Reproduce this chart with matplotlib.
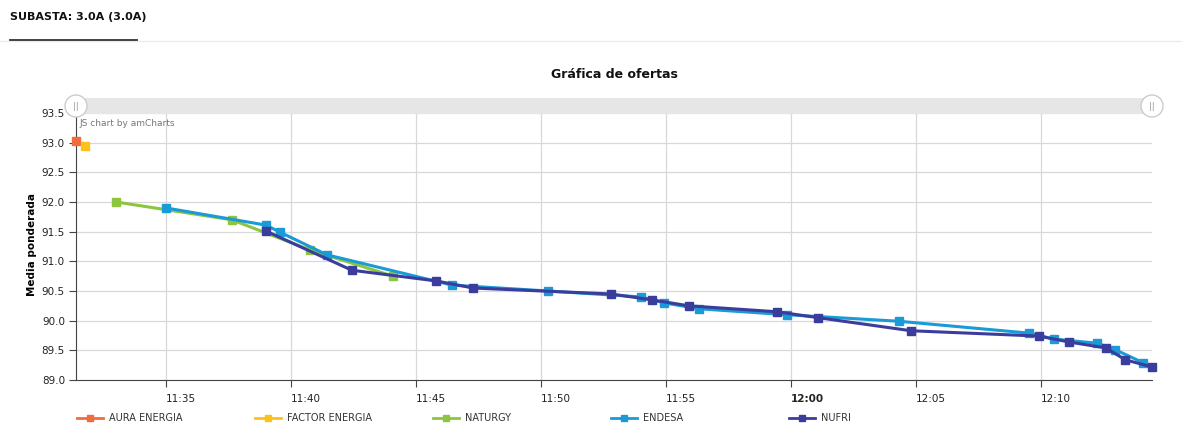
import matplotlib
matplotlib.use("Agg")
import matplotlib.pyplot as plt
from matplotlib.lines import Line2D
from matplotlib.patches import Rectangle, Circle
import pandas as pd

DAY = "2019-01-01 "

aura_t = ["11:31:24"]
aura_v = [93.03]
factor_t = ["11:31:46"]
factor_v = [92.95]
naturgy_t = ["11:33:00", "11:37:38", "11:40:46", "11:44:05"]
naturgy_v = [92.00, 91.70, 91.19, 90.75]
endesa_t = ["11:35:00", "11:39:00", "11:39:34", "11:41:26", "11:46:26", "11:50:17",
            "11:54:00", "11:54:55", "11:56:19", "11:59:50", "12:04:19", "12:09:31",
            "12:10:31", "12:12:14", "12:12:58", "12:14:05"]
endesa_v = [91.90, 91.61, 91.49, 91.11, 90.60, 90.50, 90.40, 90.30, 90.20, 90.10,
            89.99, 89.79, 89.69, 89.62, 89.51, 89.29]
nufri_t = ["11:39:00", "11:42:26", "11:45:48", "11:47:17", "11:52:48", "11:54:26",
           "11:55:55", "11:59:26", "12:01:05", "12:04:48", "12:09:55", "12:11:07",
           "12:12:36", "12:13:22", "12:14:26"]
nufri_v = [91.51, 90.85, 90.67, 90.55, 90.45, 90.35, 90.25, 90.15, 90.05, 89.83,
           89.74, 89.64, 89.54, 89.34, 89.22]

names = ["AURA ENERGIA", "FACTOR ENERGIA", "NATURGY", "ENDESA", "NUFRI"]
colors = ["#f26b3a", "#fcc21b", "#8cc63e", "#1a9ad6", "#3a3d9c"]
series = [(aura_t, aura_v), (factor_t, factor_v), (naturgy_t, naturgy_v),
          (endesa_t, endesa_v), (nufri_t, nufri_v)]

x_ticks = ["11:35", "11:40", "11:45", "11:50", "11:55", "12:00", "12:05", "12:10"]
y_ticks = [89.0, 89.5, 90.0, 90.5, 91.0, 91.5, 92.0, 92.5, 93.0, 93.5]

W, H = 1182, 440
fig = plt.figure(figsize=(W / 100, H / 100), dpi=100)


def fx(px):
    return px / W


def fy(py):
    return 1 - py / H


ax = fig.add_axes([fx(76), fy(380), fx(1152) - fx(76), fy(113) - fy(380)])

for (t, v), c in zip(series, colors):
    tt = pd.to_datetime([DAY + s for s in t])
    ax.plot(tt, v, color=c, lw=2.2, marker="s", ms=5.5, mec=c, mfc=c, clip_on=False,
            zorder=3)

ax.set_xlim(pd.Timestamp(DAY + "11:31:24"), pd.Timestamp(DAY + "12:14:26"))
ax.set_ylim(89.0, 93.5)
ax.set_yticks(y_ticks)
ax.set_yticklabels(["%.1f" % v for v in y_ticks], fontsize=7.5, color="#222222")
xt = pd.to_datetime([DAY + s for s in x_ticks])
ax.set_xticks(xt)
ax.set_xticklabels(x_ticks, fontsize=7.5, color="#222222", ha="left")
for lab in ax.get_xticklabels():
    if lab.get_text() == "12:00":
        lab.set_fontweight("bold")

ax.grid(True, color="#d8d8d8", lw=0.9)
ax.set_axisbelow(True)
for s in ["top", "right"]:
    ax.spines[s].set_visible(False)
ax.spines["left"].set_color("#444444")
ax.spines["bottom"].set_color("#444444")
ax.tick_params(axis="both", length=5, color="#444444", pad=3)
ax.tick_params(axis="x", pad=5)

fig.text(fx(32), fy(245), "Media ponderada", rotation=90, fontsize=7.5,
         fontweight="bold", ha="center", va="center")

# header
fig.text(fx(10), fy(17), "SUBASTA: 3.0A (3.0A)", fontsize=8, fontweight="bold",
         ha="left", va="center", color="#111111")
fig.add_artist(Line2D([0, 1], [fy(41), fy(41)], color="#ececec", lw=1))
fig.add_artist(Line2D([fx(10), fx(137)], [fy(40), fy(40)], color="#333333", lw=1.3))

fig.text(fx(614), fy(75), "Gráfica de ofertas", fontsize=9, fontweight="bold",
         ha="center", va="center", color="#111111")

# scrollbar
fig.add_artist(Rectangle((fx(76), fy(114)), fx(1152) - fx(76), fy(98) - fy(114),
                         transform=fig.transFigure, color="#e6e6e6", lw=0))
for hx in [76, 1152]:
    fig.add_artist(Circle((hx, H - 106), 11, transform=None, fc="white",
                          ec="#cccccc", lw=1, zorder=5))
    fig.text(fx(hx), fy(106), "||", fontsize=6, color="#999999", ha="center",
             va="center", zorder=6)

fig.text(fx(79), fy(123), "JS chart by amCharts", fontsize=6.5, color="#777777",
         ha="left", va="center")

# legend
for i, (n, c) in enumerate(zip(names, colors)):
    x0 = 77 + i * 178
    fig.add_artist(Line2D([fx(x0), fx(x0 + 26)], [fy(418), fy(418)], color=c, lw=2))
    fig.add_artist(Line2D([fx(x0 + 13)], [fy(418)], color=c, marker="s", ms=5, lw=0))
    fig.text(fx(x0 + 32), fy(418), n, fontsize=7, color="#333333", ha="left",
             va="center")

fig.savefig("out.png", dpi=100)
